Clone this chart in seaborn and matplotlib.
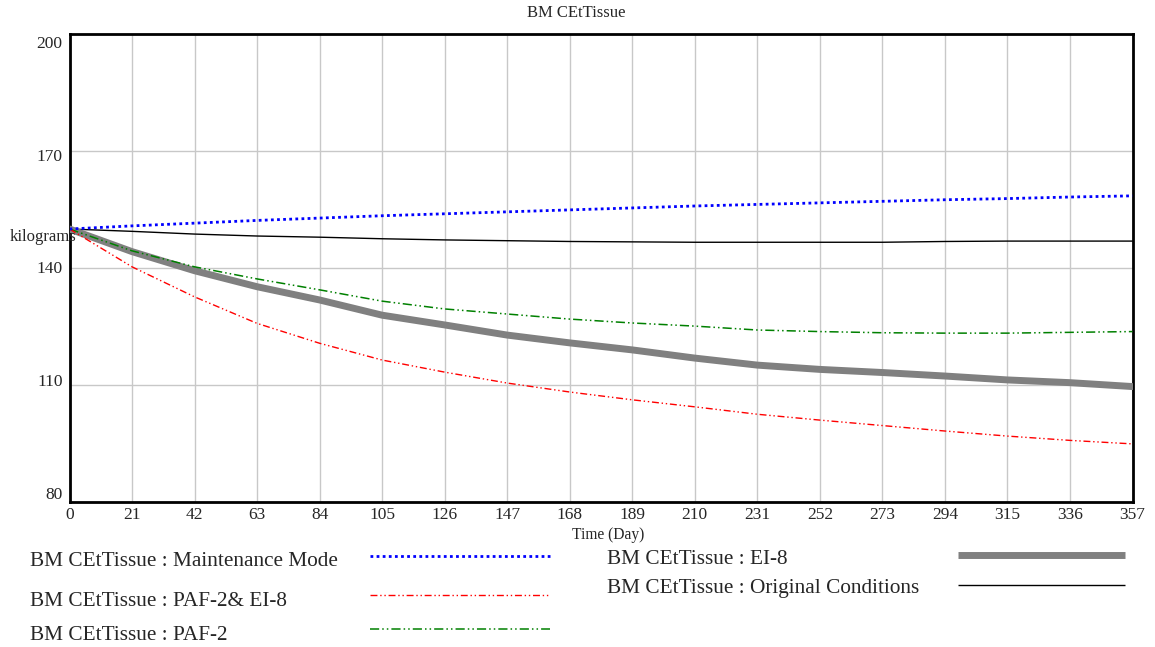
import matplotlib
matplotlib.use("Agg")
import matplotlib.pyplot as plt
from matplotlib.lines import Line2D
import seaborn as sns
import pandas as pd

# ---- data ----
days = [0, 21, 42, 63, 84, 105, 126, 147, 168, 189, 210, 231, 252, 273, 294, 315, 336, 357]
maintenance = [150, 150.8, 151.5, 152.2, 152.8, 153.4, 153.9, 154.4, 154.9, 155.4, 155.9, 156.3, 156.7, 157.1, 157.5, 157.8, 158.2, 158.5]
paf2_ei8 = [150, 140.3, 132.6, 125.8, 120.7, 116.4, 113.3, 110.5, 108.2, 106.2, 104.4, 102.5, 101.0, 99.6, 98.2, 96.9, 95.8, 94.9]
paf2 = [150, 144.4, 140.3, 137.2, 134.4, 131.5, 129.5, 128.2, 126.9, 125.9, 125.1, 124.1, 123.7, 123.4, 123.3, 123.3, 123.5, 123.7]
ei8 = [150, 144.2, 139.3, 135.2, 131.8, 127.9, 125.4, 122.8, 120.8, 119.0, 116.9, 115.1, 114.0, 113.2, 112.3, 111.3, 110.6, 109.6]
original = [150, 149.4, 148.7, 148.2, 147.9, 147.5, 147.2, 147.0, 146.8, 146.7, 146.6, 146.6, 146.6, 146.6, 146.8, 146.9, 146.9, 146.9]

series_names = [
    "BM CEtTissue : Maintenance Mode",
    "BM CEtTissue : PAF-2& EI-8",
    "BM CEtTissue : PAF-2",
    "BM CEtTissue : EI-8",
    "BM CEtTissue : Original Conditions",
]
series_values = [maintenance, paf2_ei8, paf2, ei8, original]
x_ticks = list(range(0, 358, 21))
y_ticks = [80, 110, 140, 170, 200]

# ---- styles ----
styles = {
    series_names[0]: dict(color="#0000ff", lw=2.0, ls=(0, (1, 1.2))),
    series_names[1]: dict(color="#ff0000", lw=1.0, ls=(0, (5, 2, 1, 2, 1, 2))),
    series_names[2]: dict(color="#008000", lw=1.1, ls=(0, (6, 2, 1, 2, 1, 2))),
    series_names[3]: dict(color="#808080", lw=5.0, ls="-"),
    series_names[4]: dict(color="#000000", lw=1.0, ls="-"),
}

df = pd.concat(
    [pd.DataFrame({"Day": days, "kg": v, "series": n}) for n, v in zip(series_names, series_values)],
    ignore_index=True,
)

sns.set_style("white")
plt.rcParams["font.family"] = ["Liberation Serif", "DejaVu Serif"]

W, H = 1155, 647
fig = plt.figure(figsize=(W / 100, H / 100), dpi=100)
ax = fig.add_axes([69.5 / W, 1 - 502 / H, (1132.5 - 69.5) / W, (502 - 34) / H])

draw_order = [series_names[4], series_names[3], series_names[2], series_names[1], series_names[0]]
for name in draw_order:
    st = styles[name]
    sub = df[df["series"] == name]
    sns.lineplot(data=sub, x="Day", y="kg", ax=ax, color=st["color"], linewidth=st["lw"],
                 linestyle=st["ls"], legend=False, zorder=3)

ax.set_xlim(0, 357)
ax.set_ylim(80, 200)
ax.set_xticks(x_ticks)
ax.set_xticklabels([str(t) for t in x_ticks], fontsize=12.5)
ax.set_yticks(y_ticks)
ax.set_yticklabels([])
ax.tick_params(axis="both", length=0)
ax.tick_params(axis="x", pad=3.5)
ax.grid(True, color="#c8c8c8", lw=1.0)
ax.set_axisbelow(True)
for s in ax.spines.values():
    s.set_color("black")
    s.set_linewidth(2.0)
ax.set_xlabel("")
ax.set_ylabel("")

# y tick labels (Vensim-style evenly spread inside the axis range)
n = len(y_ticks)
for k, t in enumerate(y_ticks):
    yf = 0.015 + k * (0.979 - 0.015) / (n - 1)
    ax.text(-7 / 1063, yf, str(t), transform=ax.transAxes, ha="right", va="center", fontsize=12.5)

fig.text(576 / W, 1 - 13 / H, "BM CEtTissue", ha="center", va="center", fontsize=12)
fig.text(608 / W, 1 - 535 / H, "Time (Day)", ha="center", va="center", fontsize=11.2)
fig.text(10 / W, 1 - 237 / H, "kilograms", ha="left", va="center", fontsize=12)

# ---- legend (manual, Vensim layout) ----
leg = [
    (series_names[0], 30, 561, 370, 550, 556),
    (series_names[1], 30, 602, 370, 550, 595),
    (series_names[2], 30, 635, 370, 550, 629),
    (series_names[3], 607, 560, 958, 1125, 555),
    (series_names[4], 607, 589, 958, 1125, 585),
]
for name, tx, ty, x0, x1, ly in leg:
    st = styles[name]
    fig.text(tx / W, 1 - ty / H, name, ha="left", va="center", fontsize=15.3)
    fig.add_artist(Line2D([x0 / W, x1 / W], [1 - ly / H, 1 - ly / H], transform=fig.transFigure,
                          color=st["color"], lw=st["lw"], ls=st["ls"], solid_capstyle="butt"))

fig.savefig("out.png", dpi=100)
